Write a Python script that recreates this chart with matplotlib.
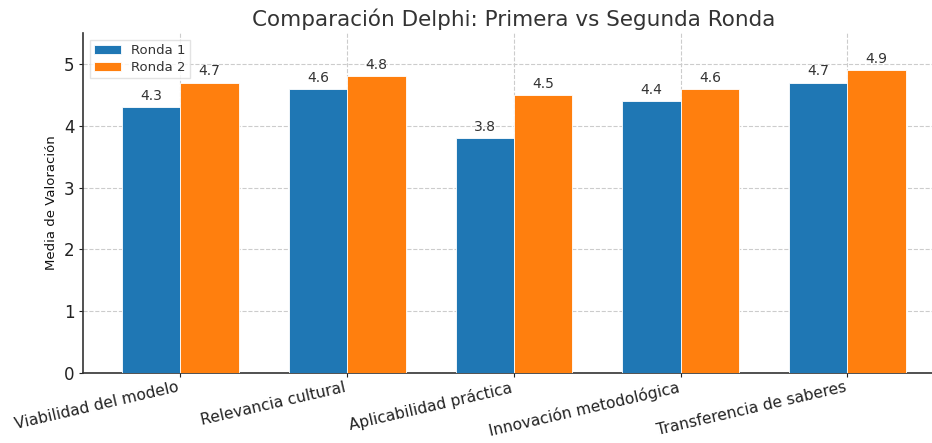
import matplotlib
matplotlib.use("Agg")
import matplotlib.pyplot as plt
import numpy as np

categories = ["Viabilidad del modelo", "Relevancia cultural", "Aplicabilidad práctica",
              "Innovación metodológica", "Transferencia de saberes"]
ronda1 = [4.3, 4.6, 3.8, 4.4, 4.7]
ronda2 = [4.7, 4.8, 4.5, 4.6, 4.9]
series_labels = ["Ronda 1", "Ronda 2"]
yticks = [0, 1, 2, 3, 4, 5]

plt.rcParams['font.family'] = ['DejaVu Sans']
fig = plt.figure(figsize=(9.32, 4.43), dpi=100)
ax = fig.add_axes([0.089, 0.158, 0.925, 0.767])

x = np.arange(len(categories))
w = 0.35
b1 = ax.bar(x - w/2, ronda1, w, label=series_labels[0], color="#1f77b4",
            edgecolor="white", linewidth=0.6, zorder=3)
b2 = ax.bar(x + w/2, ronda2, w, label=series_labels[1], color="#ff7f0e",
            edgecolor="white", linewidth=0.6, zorder=3)
for bars in (b1, b2):
    ax.bar_label(bars, fmt="%.1f", padding=3, fontsize=10, color="#333333")

ax.set_ylim(0, 5.5)
ax.set_yticks(yticks)
ax.set_xticks(x)
ax.set_xticklabels(categories, rotation=13, ha="right", fontsize=11.2, color="#222222")
ax.tick_params(axis="y", labelsize=12, colors="#222222", length=3, pad=3)
ax.tick_params(axis="x", length=3, colors="#222222", pad=2)
ax.set_ylabel("Media de Valoración", fontsize=9.5, color="#111111", labelpad=4)
ax.set_title("Comparación Delphi: Primera vs Segunda Ronda", fontsize=15.5, color="#333333", pad=5)
ax.grid(True, linestyle="--", color="#cccccc", linewidth=0.8, zorder=0)
ax.set_axisbelow(True)
for s in ("top", "right"):
    ax.spines[s].set_visible(False)
for s in ("left", "bottom"):
    ax.spines[s].set_color("#333333")
    ax.spines[s].set_linewidth(1.2)
leg = ax.legend(loc="upper left", fontsize=9.5, frameon=True, fancybox=False,
                borderaxespad=0.5, labelspacing=0.25, borderpad=0.35)
leg.get_frame().set_edgecolor("#dddddd")
for t in leg.get_texts():
    t.set_color("#333333")

fig.savefig("out.png", dpi=100)
